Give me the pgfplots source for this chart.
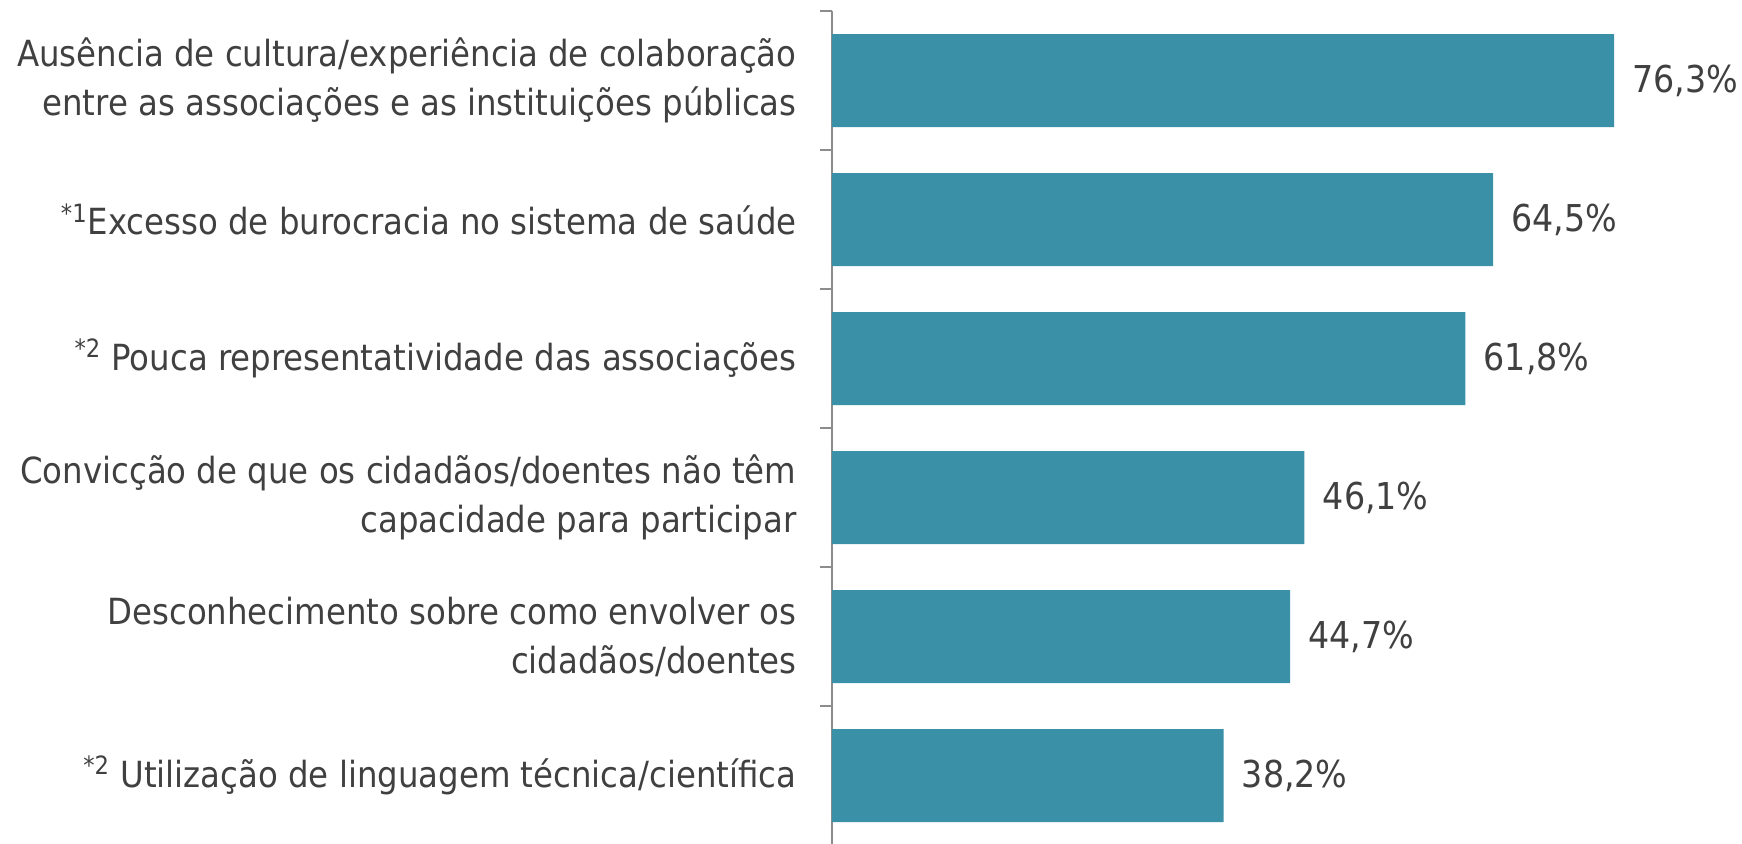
\documentclass[border=0pt]{standalone}
\usepackage{pgfplots}
\pgfplotsset{compat=1.18}
\usepackage{fontspec}
\setmainfont{DejaVu Sans Condensed}
\definecolor{barteal}{HTML}{3A90A6}
\definecolor{txt}{HTML}{404040}
\definecolor{axgray}{HTML}{8C8C8C}
\begin{document}
\begin{tikzpicture}
\begin{axis}[
  at={(0,0)}, anchor=south west,
  scale only axis,
  width=435.6pt, height=417pt,
  xbar, bar width=46.5pt,
  xmin=0, xmax=85,
  ymin=0.5, ymax=6.5,
  y dir=reverse,
  axis x line=none,
  axis y line*=left,
  y axis line style={axgray, line width=1pt},
  ytick={1,...,6},
  yticklabels={
    {Ausência de cultura/experiência de colaboração\\entre as associações e as instituições públicas},
    {\textsuperscript{*1}Excesso de burocracia no sistema de saúde},
    {\textsuperscript{*2} Pouca representatividade das associações},
    {Convicção de que os cidadãos/doentes não têm\\capacidade para participar},
    {Desconhecimento sobre como envolver os\\cidadãos/doentes},
    {\textsuperscript{*2} Utilização de linguagem técnica/científica}},
  major tick length=0pt,
  minor ytick={0.5,1.5,...,6.5},
  minor tick length=6pt,
  tick align=outside,
  tick pos=left,
  minor tick style={axgray, line width=1pt},
  yticklabel style={align=right, text=txt, font=\fontsize{18}{24.5}\selectfont, inner sep=0pt, xshift=-17.5pt},
  nodes near coords={\pgfmathprintnumber[use comma,fixed,fixed zerofill,precision=1]{\pgfplotspointmeta}\%},
  nodes near coords style={anchor=west, text=txt, font=\fontsize{18.5}{20}\selectfont, inner sep=0pt, xshift=9pt},
  /pgf/number format/assume math mode=true,
]
\addplot[fill=barteal, draw=none] coordinates {(76.3,1) (64.5,2) (61.8,3) (46.1,4) (44.7,5) (38.2,6)};
\end{axis}
\pgfresetboundingbox
\path[use as bounding box] (-416pt,0.5pt) rectangle (455pt,422.5pt);
\end{tikzpicture}
\end{document}
